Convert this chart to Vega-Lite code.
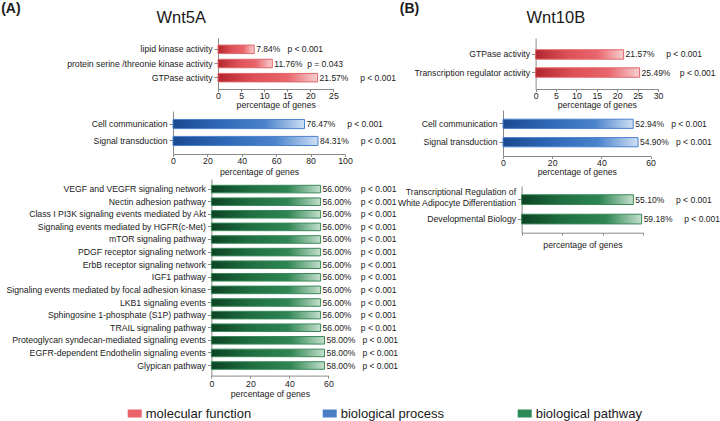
{
  "$schema": "https://vega.github.io/schema/vega-lite/v6.json",
  "padding": {"left": 0, "top": 1, "right": 0, "bottom": 0},
  "background": "white",
  "config": {
    "font": "Liberation Sans",
    "view": {"stroke": null},
    "axis": {
      "labelFont": "Liberation Sans", "titleFont": "Liberation Sans",
      "labelFontSize": 8.7, "titleFontSize": 8.7, "titleFontWeight": "normal",
      "labelColor": "#1a1a1a", "titleColor": "#1a1a1a",
      "domainColor": "#8a8a8a", "tickColor": "#8a8a8a", "grid": false,
      "labelFlush": false, "labelOverlap": false
    },
    "axisX": {"tickSize": 2.5, "labelPadding": 0},
    "axisY": {"tickSize": 4, "labelPadding": 2, "labelLimit": 400},
    "title": {"font": "Liberation Sans", "color": "#1a1a1a", "fontWeight": "normal"}
  },
  "vconcat": [
    {
      "spacing": -3,
      "hconcat": [
        {
          "columns": 1,
          "align": "none",
          "spacing": 2,
          "concat": [
            {
              "width": 160.4, "height": 51,
              "title": {"text": "Wnt5A", "fontSize": 16.5, "anchor": "middle", "frame": "group", "dx": -72, "offset": -25.5},
              "data": {"values": [
                {"term": "lipid kinase activity", "pct": 7.84, "label": "7.84%\u00a0\u00a0\u00a0p < 0.001"},
                {"term": "protein serine /threonie kinase activity", "pct": 11.76, "label": "11.76%\u00a0\u00a0p = 0.043"},
                {"term": "GTPase activity", "pct": 21.57, "label": "21.57%\u00a0\u00a0\u00a0\u00a0\u00a0p < 0.001"}
              ]},
              "encoding": {
                "y": {"field": "term", "type": "nominal", "sort": null, "scale": {"paddingInner": 0.4, "paddingOuter": 0.5},
                      "axis": {"offset": -45, "title": "(A)", "titleAngle": 0, "titleAlign": "left", "titleBaseline": "top", "titleX": -217.3, "titleY": -37, "titleFontSize": 14, "titleFontWeight": "bold"}},
                "x": {"field": "pct", "type": "quantitative", "scale": {"domain": [0, 25], "range": [45, 160.4], "nice": false}, "axis": {"values": [0, 5, 10, 15, 20, 25], "title": "percentage of genes", "titlePadding": 0}}
              },
              "layer": [
                {"mark": {"type": "bar", "stroke": "#e0666b", "strokeWidth": 1, "fill": {"gradient": "linear", "x1": 0, "y1": 0, "x2": 1, "y2": 0, "stops": [{"offset": 0, "color": "#b3262f"}, {"offset": 0.35, "color": "#dd4f56"}, {"offset": 0.7, "color": "#e8666c"}, {"offset": 1, "color": "#f8cfd0"}]}}},
                {"mark": {"type": "text", "align": "left", "baseline": "middle", "dx": 2, "fontSize": 8.5, "color": "#1a1a1a"}, "encoding": {"text": {"field": "label"}}}
              ]
            },
            {
              "width": 172, "height": 43,
              "data": {"values": [
                {"term": "Cell communication", "pct": 76.47, "label": "76.47%\u00a0\u00a0\u00a0\u00a0\u00a0p < 0.001"},
                {"term": "Signal transduction", "pct": 84.31, "label": "84.31%\u00a0\u00a0\u00a0\u00a0\u00a0p < 0.001"}
              ]},
              "encoding": {
                "y": {"field": "term", "type": "nominal", "sort": null, "scale": {"paddingInner": 0.46, "paddingOuter": 0.5}, "axis": {"title": null}},
                "x": {"field": "pct", "type": "quantitative", "scale": {"domain": [0, 100], "nice": false}, "axis": {"values": [0, 20, 40, 60, 80, 100], "title": "percentage of genes", "titlePadding": 2.5}}
              },
              "layer": [
                {"mark": {"type": "bar", "stroke": "#4a82cb", "strokeWidth": 1, "fill": {"gradient": "linear", "x1": 0, "y1": 0, "x2": 1, "y2": 0, "stops": [{"offset": 0, "color": "#1a4a90"}, {"offset": 0.35, "color": "#2e67b6"}, {"offset": 0.7, "color": "#4a82cb"}, {"offset": 1, "color": "#cddff4"}]}}},
                {"mark": {"type": "text", "align": "left", "baseline": "middle", "dx": 2, "fontSize": 8.5, "color": "#1a1a1a"}, "encoding": {"text": {"field": "label"}}}
              ]
            },
            {
              "width": 155.4, "height": 196.6,
              "data": {"values": [
                {"term": "VEGF and VEGFR signaling network", "pct": 56, "label": "56.00%\u00a0\u00a0\u00a0\u00a0p < 0.001"},
                {"term": "Nectin adhesion pathway", "pct": 56, "label": "56.00%\u00a0\u00a0\u00a0\u00a0p < 0.001"},
                {"term": "Class I PI3K signaling events mediated by Akt", "pct": 56, "label": "56.00%\u00a0\u00a0\u00a0\u00a0p < 0.001"},
                {"term": "Signaling events mediated by HGFR(c-Met)", "pct": 56, "label": "56.00%\u00a0\u00a0\u00a0\u00a0p < 0.001"},
                {"term": "mTOR signaling pathway", "pct": 56, "label": "56.00%\u00a0\u00a0\u00a0\u00a0p < 0.001"},
                {"term": "PDGF receptor signaling network", "pct": 56, "label": "56.00%\u00a0\u00a0\u00a0\u00a0p < 0.001"},
                {"term": "ErbB receptor signaling network", "pct": 56, "label": "56.00%\u00a0\u00a0\u00a0\u00a0p < 0.001"},
                {"term": "IGF1 pathway", "pct": 56, "label": "56.00%\u00a0\u00a0\u00a0\u00a0p < 0.001"},
                {"term": "Signaling events mediated by focal adhesion kinase", "pct": 56, "label": "56.00%\u00a0\u00a0\u00a0\u00a0p < 0.001"},
                {"term": "LKB1 signaling events", "pct": 56, "label": "56.00%\u00a0\u00a0\u00a0\u00a0p < 0.001"},
                {"term": "Sphingosine 1-phosphate (S1P) pathway", "pct": 56, "label": "56.00%\u00a0\u00a0\u00a0\u00a0p < 0.001"},
                {"term": "TRAIL signaling pathway", "pct": 56, "label": "56.00%\u00a0\u00a0\u00a0\u00a0p < 0.001"},
                {"term": "Proteoglycan syndecan-mediated signaling events", "pct": 58, "label": "58.00%\u00a0\u00a0\u00a0p < 0.001"},
                {"term": "EGFR-dependent Endothelin signaling events", "pct": 58, "label": "58.00%\u00a0\u00a0\u00a0p < 0.001"},
                {"term": "Glypican pathway", "pct": 58, "label": "58.00%\u00a0\u00a0\u00a0p < 0.001"}
              ]},
              "encoding": {
                "y": {"field": "term", "type": "nominal", "sort": null, "scale": {"paddingInner": 0.4, "paddingOuter": 0.5}, "axis": {"title": null, "offset": -38.4}},
                "x": {"field": "pct", "type": "quantitative", "scale": {"domain": [0, 60], "range": [38.4, 155.4], "nice": false}, "axis": {"values": [0, 20, 40, 60], "title": "percentage of genes", "labelPadding": 1, "titlePadding": 1.3}}
              },
              "layer": [
                {"mark": {"type": "bar", "stroke": "#3a8a5a", "strokeWidth": 1, "fill": {"gradient": "linear", "x1": 0, "y1": 0, "x2": 1, "y2": 0, "stops": [{"offset": 0, "color": "#0d4324"}, {"offset": 0.35, "color": "#1f6e41"}, {"offset": 0.7, "color": "#2f8553"}, {"offset": 1, "color": "#c4e0cd"}]}}},
                {"mark": {"type": "text", "align": "left", "baseline": "middle", "dx": 2, "fontSize": 8.5, "color": "#1a1a1a"}, "encoding": {"text": {"field": "label"}}}
              ]
            }
          ]
        },
        {
          "columns": 1,
          "align": "none",
          "spacing": 1,
          "concat": [
            {
              "width": 155, "height": 51,
              "title": {"text": "Wnt10B", "fontSize": 16.5, "anchor": "middle", "frame": "group", "dx": -24.7, "offset": -25.5},
              "data": {"values": [
                {"term": "GTPase activity", "pct": 21.57, "label": "21.57%\u00a0\u00a0\u00a0\u00a0\u00a0p < 0.001"},
                {"term": "Transcription regulator activity", "pct": 25.49, "label": "25.49%\u00a0\u00a0\u00a0\u00a0p < 0.001"}
              ]},
              "encoding": {
                "y": {"field": "term", "type": "nominal", "sort": null, "scale": {"paddingInner": 0.48, "paddingOuter": 0.65},
                      "axis": {"offset": -32.6, "title": "(B)", "titleAngle": 0, "titleAlign": "left", "titleBaseline": "top", "titleX": -136.3, "titleY": -37, "titleFontSize": 14, "titleFontWeight": "bold"}},
                "x": {"field": "pct", "type": "quantitative", "scale": {"domain": [0, 30], "range": [32.6, 155], "nice": false}, "axis": {"values": [0, 5, 10, 15, 20, 25, 30], "title": "percentage of genes", "titlePadding": 0}}
              },
              "layer": [
                {"mark": {"type": "bar", "stroke": "#e0666b", "strokeWidth": 1, "fill": {"gradient": "linear", "x1": 0, "y1": 0, "x2": 1, "y2": 0, "stops": [{"offset": 0, "color": "#b3262f"}, {"offset": 0.35, "color": "#dd4f56"}, {"offset": 0.7, "color": "#e8666c"}, {"offset": 1, "color": "#f8cfd0"}]}}},
                {"mark": {"type": "text", "align": "left", "baseline": "middle", "dx": 2, "fontSize": 8.5, "color": "#1a1a1a"}, "encoding": {"text": {"field": "label"}}}
              ]
            },
            {
              "width": 147.6, "height": 46,
              "data": {"values": [
                {"term": "Cell communication", "pct": 52.94, "label": "52.94%\u00a0\u00a0\u00a0p < 0.001"},
                {"term": "Signal transduction", "pct": 54.9, "label": "54.90%\u00a0\u00a0\u00a0p < 0.001"}
              ]},
              "encoding": {
                "y": {"field": "term", "type": "nominal", "sort": null, "scale": {"paddingInner": 0.5, "paddingOuter": 0.5}, "axis": {"title": null}},
                "x": {"field": "pct", "type": "quantitative", "scale": {"domain": [0, 60], "nice": false}, "axis": {"values": [0, 20, 40, 60], "title": "percentage of genes", "titlePadding": 0.5}}
              },
              "layer": [
                {"mark": {"type": "bar", "stroke": "#4a82cb", "strokeWidth": 1, "fill": {"gradient": "linear", "x1": 0, "y1": 0, "x2": 1, "y2": 0, "stops": [{"offset": 0, "color": "#1a4a90"}, {"offset": 0.35, "color": "#2e67b6"}, {"offset": 0.7, "color": "#4a82cb"}, {"offset": 1, "color": "#cddff4"}]}}},
                {"mark": {"type": "text", "align": "left", "baseline": "middle", "dx": 2, "fontSize": 8.5, "color": "#1a1a1a"}, "encoding": {"text": {"field": "label"}}}
              ]
            },
            {
              "width": 140.3, "height": 46.7,
              "title": {"text": "\u00a0", "fontSize": 8, "offset": 0},
              "data": {"values": [
                {"term": "Transcriptional Regulation of|White Adipocyte Differentiation", "pct": 55.1, "label": "55.10%\u00a0\u00a0\u00a0\u00a0\u00a0p < 0.001"},
                {"term": "Developmental Biology", "pct": 59.18, "label": "59.18%\u00a0\u00a0\u00a0\u00a0\u00a0p < 0.001"}
              ]},
              "encoding": {
                "y": {"field": "term", "type": "nominal", "sort": null, "scale": {"paddingInner": 0.5, "paddingOuter": 0.45},
                      "axis": {"title": null, "offset": -18.6, "labelExpr": "split(datum.label, '|')", "labelLineHeight": 11,
                               "labelOffset": {"condition": {"test": "indexof(datum.value, '|') >= 0", "value": -7.5}, "value": 0}}},
                "x": {"field": "pct", "type": "quantitative", "scale": {"domain": [0, 60], "range": [18.6, 140.3], "nice": false}, "axis": {"values": [0, 20, 40, 60], "labels": false, "title": "percentage of genes", "titlePadding": 5}}
              },
              "layer": [
                {"mark": {"type": "bar", "stroke": "#3a8a5a", "strokeWidth": 1, "fill": {"gradient": "linear", "x1": 0, "y1": 0, "x2": 1, "y2": 0, "stops": [{"offset": 0, "color": "#0d4324"}, {"offset": 0.35, "color": "#1f6e41"}, {"offset": 0.7, "color": "#2f8553"}, {"offset": 1, "color": "#c4e0cd"}]}}},
                {"mark": {"type": "text", "align": "left", "baseline": "middle", "dx": 2, "fontSize": 8.5, "color": "#1a1a1a"}, "encoding": {"text": {"field": "label"}}}
              ]
            }
          ]
        }
      ]
    },
    {
      "width": 1, "height": 1,
      "data": {"values": [
        {"cat": "molecular function"},
        {"cat": "biological process"},
        {"cat": "biological pathway"}
      ]},
      "mark": {"type": "square", "opacity": 0},
      "encoding": {
        "color": {
          "field": "cat", "type": "nominal", "sort": null,
          "scale": {"domain": ["molecular function", "biological process", "biological pathway"], "range": ["#e8646a", "#4a7fc6", "#2c8a56"]},
          "legend": {
            "title": null, "orient": "none", "legendX": -45.3, "legendY": 368.5,
            "direction": "horizontal", "columns": 3, "gridAlign": "all", "columnPadding": 70,
            "symbolType": "M-1,-0.57H1V0.57H-1Z", "symbolSize": 196, "symbolOpacity": 1, "symbolStrokeWidth": 0,
            "labelFontSize": 13, "labelFont": "Liberation Sans", "labelColor": "#1a1a1a", "labelOffset": 4
          }
        }
      }
    }
  ],
  "spacing": 4
}
